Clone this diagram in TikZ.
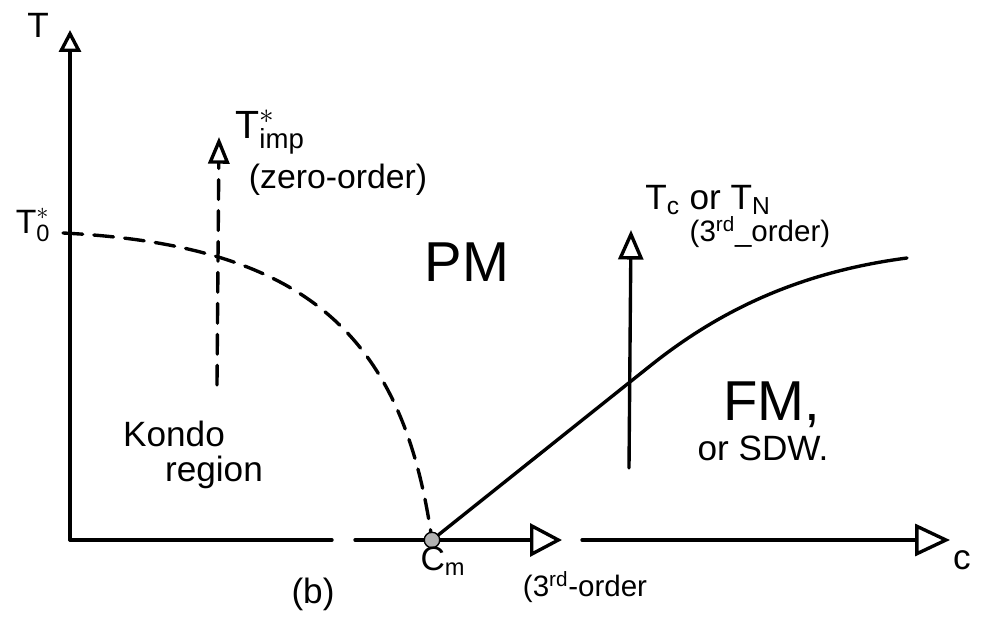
\documentclass[tikz,border=0pt]{standalone}
\usepackage{fontspec}
\usepackage{amsmath}
\setmainfont{Liberation Sans}
\usetikzlibrary{arrows.meta}
\begin{document}
\begin{tikzpicture}[x=0.025cm, y=-0.025cm,
  line width=2.4pt, line cap=round,
  every node/.style={inner sep=0pt, font=\fontsize{24}{26}\selectfont},
  bigtxt/.style={font=\fontsize{40}{42}\selectfont},
  midtxt/.style={font=\fontsize{25}{28}\selectfont},
  smalltxt/.style={font=\fontsize{21}{24}\selectfont},
  dashline/.style={dash pattern=on 14pt off 8pt},
  openhead/.style={-{Triangle[open, #1]}},
  dot/.style={circle, draw, fill=gray!60, line width=1pt, minimum size=11pt},
]
\useasboundingbox (0,0) rectangle (988,618);

% axes
\coordinate (orig) at (70,540);
\coordinate (Ttop) at (70,30);
\coordinate (cA) at (332,540);
\coordinate (cB) at (355,540);
\coordinate (cC) at (562,540);
\coordinate (cD) at (582,540);
\coordinate (cE) at (950,540);
\coordinate (cmpt) at (432,540);
\draw[openhead={length=15.6pt, width=15.6pt}] (orig) -- (Ttop);
\draw (orig) -- (cA);
\draw[openhead={length=22.7pt, width=23.4pt}] (cB) -- (cC);
\draw[openhead={length=24.8pt, width=22.7pt}] (cD) -- (cE);
\node[dot] (cm) at (cmpt) {};

% crossover lines
\coordinate (t0) at (63,233);
\draw[dashline] (t0) .. controls (300,245) and (400,330) .. (cm);
\coordinate (bend) at (650,366);
\coordinate (tcend) at (907,258);
\draw (cm) -- (bend) .. controls (720,310) and (800,272) .. (tcend);

% vertical arrows
\coordinate (impbot) at (217,385);
\coordinate (imptop) at (219,137);
\draw[dashline, openhead={length=19pt, width=15pt}] (impbot) -- (imptop);
\coordinate (tcbot) at (629,468);
\coordinate (tctop) at (631,230);
\draw[openhead={length=21pt, width=17.7pt}] (tcbot) -- (tctop);

% labels
\node[midtxt] (Tlbl) at (38,25) {T};
\node[midtxt] (clbl) at (962,560) {c};
\node (T0lbl) at (33,225) {$\text{T}^{*}_{\text{0}}$};
\node[font=\fontsize{28}{30}\selectfont] (implbl) at (270,132) {$\text{T}^{*}_{\text{imp}}$};
\node (zerolbl) at (338,180) {(zero-order)};
\node[bigtxt] (pmlbl) at (467,262) {PM};
\node[midtxt] (kondolbl) at (174,434) {Kondo};
\node[midtxt] (regionlbl) at (214,472) {region};
\node[midtxt] (tclbl) at (708,200) {T\textsubscript{c} or T\textsubscript{N}};
\node[smalltxt] (thirdlbl) at (760,232) {(3\textsuperscript{rd}\_order)};
\node[bigtxt] (fmlbl) at (772,405) {FM,};
\node[midtxt] (sdwlbl) at (763,448) {or SDW.};
\node (cmlbl) at (443,561) {C\textsubscript{m}};
\node[smalltxt] (thirdlbl2) at (585,587) {(3\textsuperscript{rd}-order};
\node[midtxt] (blbl) at (313,594) {(b)};
\end{tikzpicture}
\end{document}
